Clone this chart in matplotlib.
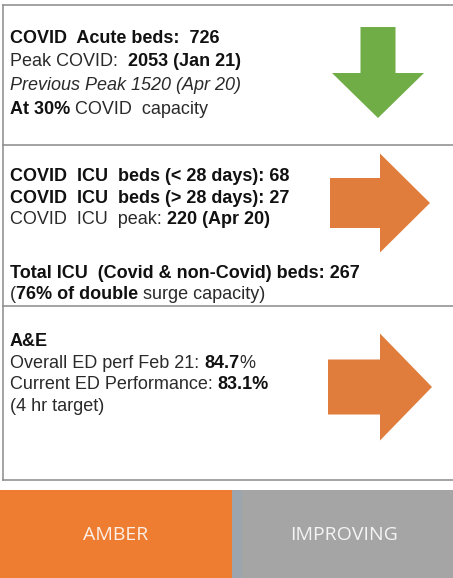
import matplotlib
matplotlib.use("Agg")
import matplotlib.pyplot as plt
import matplotlib.patches as mpatches

# --- data ---
acute_lines = [
    [("COVID  Acute beds:  726", "bold", "normal")],
    [("Peak COVID:  ", "normal", "normal"), ("2053 (Jan 21)", "bold", "normal")],
    [("Previous Peak 1520 (Apr 20)", "normal", "italic")],
    [("At 30%", "bold", "normal"), (" COVID  capacity", "normal", "normal")],
]
icu_lines = [
    [("COVID  ICU  beds (< 28 days): 68", "bold", "normal")],
    [("COVID  ICU  beds (> 28 days): 27", "bold", "normal")],
    [("COVID  ICU  peak: ", "normal", "normal"), ("220 (Apr 20)", "bold", "normal")],
    [("Total ICU  (Covid & non-Covid) beds: 267", "bold", "normal")],
    [("(", "normal", "normal"), ("76% of double", "bold", "normal"), (" surge capacity)", "normal", "normal")],
]
ae_lines = [
    [("A&E", "bold", "normal")],
    [("Overall ED perf Feb 21: ", "normal", "normal"), ("84.7", "bold", "normal"), ("%", "normal", "normal")],
    [("Current ED Performance: ", "normal", "normal"), ("83.1%", "bold", "normal")],
    [("(4 hr target)", "normal", "normal")],
]
trends = ["down", "right", "right"]
status = ["AMBER", "IMPROVING"]

# baselines in pixels
acute_y = [43, 66.5, 90, 114]
icu_y = [181, 203, 224, 278, 299]
ae_y = [346, 368, 389, 411]

W, H = 453, 578
fig = plt.figure(figsize=(W / 100, H / 100), dpi=100)
ax = fig.add_axes([0, 0, 1, 1])
ax.set_xlim(0, W)
ax.set_ylim(H, 0)
ax.axis("off")
r = fig.canvas.get_renderer()

FONT = "Liberation Sans"
FS = 13


def tw(s, weight, style):
    t = ax.text(0, 0, s, fontsize=FS, family=FONT, weight=weight, style=style)
    w = t.get_window_extent(r).width
    t.remove()
    return w


def draw_line(x, y, parts):
    for s, weight, style in parts:
        col = "#111111" if weight == "bold" else "#2a2a2a"
        ax.text(x, y, s, fontsize=FS, family=FONT, weight=weight, style=style,
                color=col, va="baseline", ha="left")
        # account for spaces at the ends, which are not in the glyph box
        w = tw("|" + s + "|", weight, style) - tw("||", weight, style)
        x += w


for lines, ys in [(acute_lines, acute_y), (icu_lines, icu_y), (ae_lines, ae_y)]:
    for parts, y in zip(lines, ys):
        draw_line(10, y, parts)

# box outlines
lc = "#8a8a8a"
ax.plot([3, W], [5, 5], color=lc, lw=1.1)
ax.plot([3, 3], [5, 480], color=lc, lw=1.1)
for y in [145, 306, 480]:
    ax.plot([3, W], [y, y], color=lc, lw=1.1)

# trend arrows
green, orange = "#70AD47", "#E07D3C"
arrow_specs = [
    dict(x=378, y=27, size=91, shaft=35, head=92, hl=45),
    dict(x=330, y=203, size=100, shaft=50, head=99, hl=50),
    dict(x=328, y=387, size=104, shaft=55, head=107, hl=52),
]
for trend, sp in zip(trends, arrow_specs):
    if trend == "down":
        dx, dy, c = 0, sp["size"], green
    else:
        dx, dy, c = sp["size"], 0, orange
    ax.add_patch(mpatches.FancyArrow(sp["x"], sp["y"], dx, dy, width=sp["shaft"],
                                     head_width=sp["head"], head_length=sp["hl"],
                                     length_includes_head=True, color=c, lw=0))

# status bar
ax.add_patch(mpatches.Rectangle((0, 490), 232, H - 490, color="#EE7D31", lw=0))
ax.add_patch(mpatches.Rectangle((232, 490), W - 232, H - 490, color="#A5A5A5", lw=0))
ax.add_patch(mpatches.Rectangle((232, 490), 10, H - 490, color="#9CA4AE", lw=0))
ax.text(116, 535, status[0], fontsize=14, family="Open Sans", color="#FBEFE6",
        ha="center", va="center")
ax.text(344, 535, status[1], fontsize=14, family="Open Sans", color="#F4F4F4",
        ha="center", va="center")

fig.savefig("out.png", dpi=100)
